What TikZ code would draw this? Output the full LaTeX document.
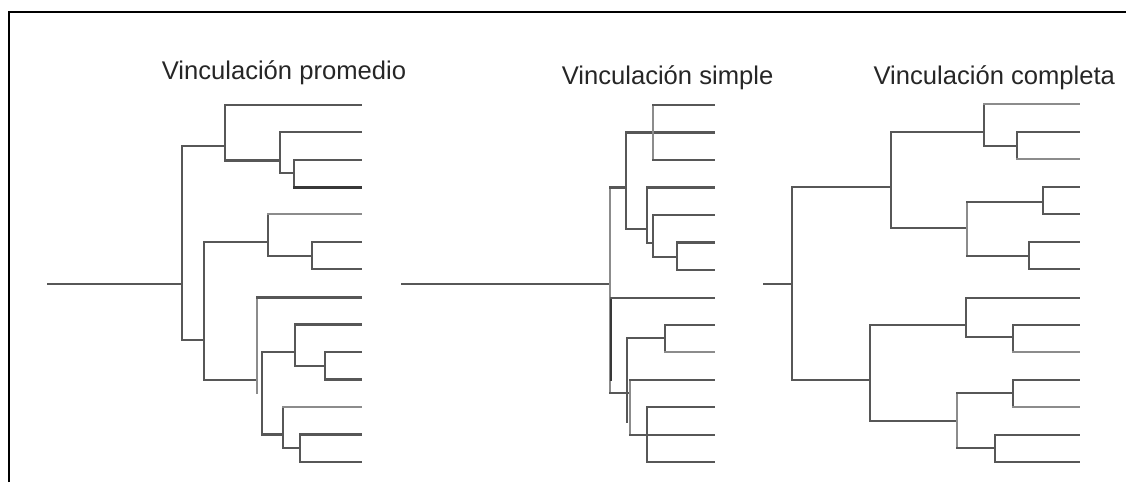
\documentclass[tikz,border=0pt]{standalone}
\usepackage{fontspec}
\setmainfont{Liberation Sans}
\tikzset{
  br/.style={draw=black!66, line width=1.7pt, line cap=rect},
  lt/.style={draw=black!45, line width=1.7pt, line cap=rect},
  dk/.style={draw=black!78, line width=1.7pt, line cap=rect},
  ttl/.style={anchor=base west, inner sep=0pt, font=\fontsize{19.2}{22}\selectfont, text=black!85}
}
\begin{document}
\begin{tikzpicture}[x=0.75pt, y=-0.75pt]
\useasboundingbox (0,0) rectangle (1126,482);
% frame
\draw[line width=1.5pt] (9,482) -- (9,12) -- (1126,12);

% titles
\node[ttl] (tprom) at (161.5,79.3) {Vinculación promedio};
\node[ttl] (tsimp) at (561.5,84.3) {Vinculación simple};
\node[ttl] (tcomp) at (873.3,84.3) {Vinculación completa};

% ---------- average linkage ----------
\path[br] (48,284) -- (182,284);
\path[br] (182,146) -- (182,340);
\path[br] (182,146) -- (225,146);
\path[br] (225,105) -- (225,160.5);
\path[br] (225,105) -- (361,105);
\path[br] (225,160.5) -- (280,160.5);
\path[br] (280,132) -- (280,173);
\path[br] (280,132) -- (361,132);
\path[br] (280,173) -- (294,173);
\path[br] (294,160) -- (294,187.5);
\path[br] (294,160) -- (361,160);
\path[dk] (294,187.5) -- (361,187.5);
\path[br] (182,340) -- (204,340);
\path[br] (204,242) -- (204,380);
\path[br] (204,242) -- (268,242);
\path[br] (268,214) -- (268,256);
\path[lt] (268,214) -- (361,214);
\path[br] (268,256) -- (312,256);
\path[br] (312,242) -- (312,269);
\path[br] (312,242) -- (361,242);
\path[br] (312,269) -- (361,269);
\path[br] (204,380) -- (257,380);
\path[lt] (257,297.5) -- (257,393);
\path[br] (257,297.5) -- (361,297.5);
\path[br] (262,352) -- (262,434.5);
\path[br] (262,352) -- (295,352);
\path[br] (295,324.5) -- (295,366);
\path[br] (295,324.5) -- (361,324.5);
\path[br] (295,366) -- (325,366);
\path[br] (325,352) -- (325,379.5);
\path[br] (325,352) -- (361,352);
\path[br] (325,379.5) -- (361,379.5);
\path[br] (262,434.5) -- (283,434.5);
\path[br] (283,407) -- (283,448);
\path[lt] (283,407) -- (361,407);
\path[br] (283,448) -- (300,448);
\path[br] (300,434.5) -- (300,462);
\path[br] (300,434.5) -- (361,434.5);
\path[br] (300,462) -- (361,462);

% ---------- single linkage ----------
\path[br] (402,284) -- (610,284);
\path[lt] (610,187.5) -- (610,393.3);
\path[dk] (611,298) -- (611,380);
\path[br] (610,187.5) -- (626,187.5);
\path[br] (610,393.3) -- (628,393.3);
\path[br] (611,298) -- (714,298);
\path[br] (626,132.5) -- (626,229);
\path[br] (626,132.5) -- (714,132.5);
\path[lt] (653.3,105) -- (653.3,160);
\path[br] (653.3,105) -- (714,105);
\path[br] (653.3,160) -- (714,160);
\path[br] (626,229) -- (646.7,229);
\path[br] (646.7,187.5) -- (646.7,243);
\path[br] (646.7,187.5) -- (714,187.5);
\path[br] (646.7,243) -- (653.3,243);
\path[br] (653.3,215) -- (653.3,256.7);
\path[br] (653.3,215) -- (714,215);
\path[br] (653.3,256.7) -- (677.3,256.7);
\path[br] (677.3,242.5) -- (677.3,270);
\path[br] (677.3,242.5) -- (714,242.5);
\path[br] (677.3,270) -- (714,270);
\path[br] (626.7,338.3) -- (626.7,421.7);
\path[lt] (630,380) -- (630,435);
\path[br] (626.7,338.3) -- (665,338.3);
\path[br] (665,325) -- (665,352.3);
\path[br] (665,325) -- (714,325);
\path[lt] (665,352.3) -- (714,352.3);
\path[br] (630,380) -- (714,380);
\path[br] (630,435) -- (714,435);
\path[br] (647.3,407.3) -- (647.3,462.3);
\path[br] (647.3,407.3) -- (714,407.3);
\path[br] (647.3,462.3) -- (714,462.3);

% ---------- complete linkage ----------
\path[br] (764,284) -- (791.7,284);
\path[br] (791.7,187.3) -- (791.7,380);
\path[br] (791.7,187.3) -- (891,187.3);
\path[br] (891,131.7) -- (891,227.7);
\path[br] (891,131.7) -- (984.3,131.7);
\path[br] (984.3,104) -- (984.3,145.7);
\path[lt] (984.3,104) -- (1079,104);
\path[br] (984.3,145.7) -- (1017.3,145.7);
\path[br] (1017.3,131.7) -- (1017.3,159);
\path[br] (1017.3,131.7) -- (1079,131.7);
\path[lt] (1017.3,159) -- (1079,159);
\path[br] (891,227.7) -- (966.7,227.7);
\path[lt] (966.7,201.7) -- (966.7,256);
\path[br] (966.7,201.7) -- (1043.3,201.7);
\path[br] (1043.3,187.3) -- (1043.3,214);
\path[br] (1043.3,187.3) -- (1079,187.3);
\path[br] (1043.3,214) -- (1079,214);
\path[br] (966.7,256) -- (1029.3,256);
\path[br] (1029.3,242.3) -- (1029.3,269.3);
\path[br] (1029.3,242.3) -- (1079,242.3);
\path[br] (1029.3,269.3) -- (1079,269.3);
\path[br] (791.7,380) -- (870,380);
\path[br] (870,325) -- (870,420.7);
\path[br] (870,325) -- (966,325);
\path[br] (966,298.3) -- (966,337.3);
\path[br] (966,298.3) -- (1079,298.3);
\path[br] (966,337.3) -- (1012.7,337.3);
\path[br] (1012.7,325) -- (1012.7,351.7);
\path[br] (1012.7,325) -- (1079,325);
\path[lt] (1012.7,351.7) -- (1079,351.7);
\path[br] (870,420.7) -- (956.7,420.7);
\path[lt] (956.7,393.3) -- (956.7,448.3);
\path[br] (956.7,393.3) -- (1012.7,393.3);
\path[br] (1012.7,380) -- (1012.7,407.3);
\path[br] (1012.7,380) -- (1079,380);
\path[lt] (1012.7,407.3) -- (1079,407.3);
\path[br] (956.7,448.3) -- (995,448.3);
\path[br] (995,435) -- (995,462.3);
\path[br] (995,435) -- (1079,435);
\path[br] (995,462.3) -- (1079,462.3);
\end{tikzpicture}
\end{document}
